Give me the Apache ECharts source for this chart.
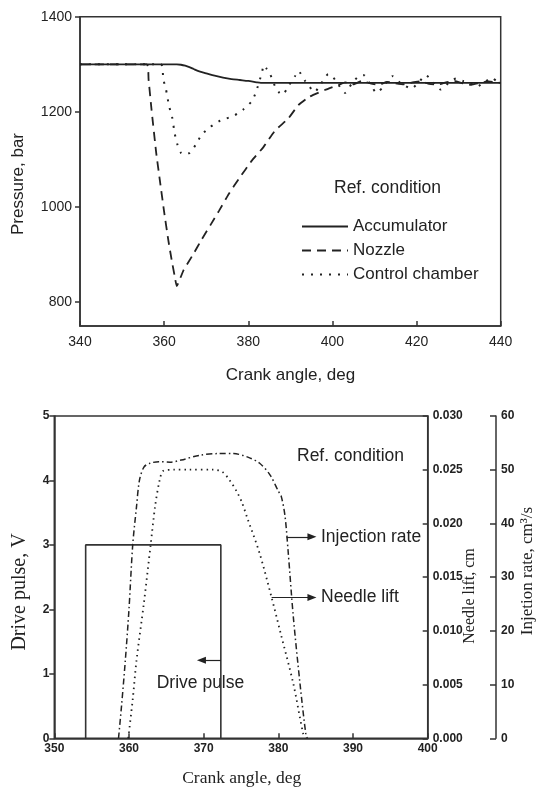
<!DOCTYPE html>
<html>
<head>
<meta charset="utf-8">
<script src="https://cdn.jsdelivr.net/npm/echarts@6/dist/echarts.min.js"></script>
<style>
  html, body { margin: 0; padding: 0; background: #fff; }
  #chart { width: 538px; height: 791px; }
</style>
</head>
<body>
<div id="chart"></div>
<script>
// ---- Upper panel: rail pressures vs crank angle ----
const accAngle = [340, 363, 364, 365, 366, 367, 368, 370, 372, 374, 376, 378, 380, 382, 383, 440];
const accPressure = [1300, 1300, 1299, 1297, 1294, 1290, 1286, 1281, 1276, 1272, 1269, 1267, 1265, 1262, 1261, 1261];

const nozAngle = [340, 355.9, 356.3, 357, 358.1, 359, 360, 361, 361.8, 362.5, 363, 364.6, 367, 369, 371, 373.1, 375.4, 377.8, 380.9, 383.6, 386.4, 389.5, 391.9, 394.6, 398.2, 401.8, 403, 405, 407, 409, 411, 413, 415, 417, 419, 421, 423, 425, 427, 429, 431, 433, 435, 437, 440];
const nozPressure = [1300, 1300, 1268, 1205, 1115, 1055, 990, 930, 888, 855, 834, 867, 902, 933, 962, 993, 1028, 1060, 1098, 1126, 1161, 1186, 1214, 1232, 1246, 1258, 1262, 1258, 1265, 1260, 1257, 1263, 1260, 1258, 1262, 1264, 1259, 1257, 1262, 1265, 1260, 1257, 1261, 1264, 1261];

const ccAngle = [340, 359.2, 359.8, 360.4, 361.2, 361.9, 362.5, 363.1, 364, 365, 366.1, 367.6, 368.9, 370.9, 373, 374.8, 376.8, 378.8, 380.8, 381.8, 383.2, 383.7, 384.4, 385.2, 386.3, 387.4, 388.2, 389.5, 391.1, 391.9, 393.5, 395.1, 395.8, 397.2, 399, 399.8, 401.2, 403, 404.5, 406.1, 407.5, 409, 410.5, 412, 414.3, 416, 418.8, 420.5, 422.2, 424, 425.7, 427.5, 429.4, 431, 432.5, 434.3, 436.3, 437.8, 439, 440];
const ccPressure = [1300, 1300, 1268, 1249, 1211, 1189, 1155, 1133, 1114, 1110, 1114, 1132, 1152, 1168, 1180, 1186, 1193, 1205, 1222, 1241, 1281, 1298, 1290, 1279, 1255, 1240, 1236, 1254, 1275, 1286, 1265, 1247, 1242, 1258, 1279, 1277, 1260, 1240, 1258, 1274, 1277, 1258, 1240, 1252, 1275, 1262, 1249, 1262, 1277, 1262, 1247, 1260, 1270, 1265, 1262, 1253, 1263, 1272, 1265, 1262];

const pressureTicks = [800, 1000, 1200, 1400];

// ---- Lower panel: drive pulse, needle lift, injection rate ----
const pulseAngle = [354.2, 354.2, 372.3, 372.3];
const pulseVolt = [0, 3, 3, 0];

const liftAngle = [359.9, 360.5, 361, 362, 362.9, 363.5, 364.1, 364.6, 366, 368, 371.3, 372.5, 373.5, 374.4, 375.1, 375.8, 377.5, 379.1, 380.3, 382, 383.3, 383.6];
const liftCm = [0, 0.0036, 0.0072, 0.0126, 0.018, 0.0216, 0.024, 0.0249, 0.025, 0.025, 0.025, 0.0248, 0.024, 0.023, 0.022, 0.0206, 0.0172, 0.0131, 0.0098, 0.0051, 0.0005, 0];

const rateAngle = [358.6, 359.0, 359.5, 360, 360.5, 361, 361.4, 362, 362.8, 364, 365.5, 367, 369.5, 372, 374, 376, 377.5, 378.9, 380, 380.4, 380.9, 381.3, 382, 382.9, 383.7, 383.9];
const rateCm3 = [0, 6, 14.3, 24, 36, 43, 48, 50.5, 51.2, 51.5, 51.4, 51.8, 52.7, 53, 53, 52.3, 51.2, 49, 46, 45, 41.3, 35, 22.7, 10.2, 0.6, 0];

const zip = (xs, ys) => xs.map((x, i) => [x, ys[i]]);

const INK = '#222';
const AXIS = '#333';
const SANS = '"Liberation Sans", Arial, sans-serif';
const SERIF = '"Liberation Serif", "Times New Roman", serif';

const chart = echarts.init(document.getElementById('chart'), null, { renderer: 'canvas' });

const lineAxis = { show: true, lineStyle: { color: AXIS, width: 1.5 } };
const arrowLine = (from, to) => ({
  silent: true, symbol: ['none', 'triangle'], symbolSize: [7, 9],
  lineStyle: { color: INK, width: 1.2, type: 'solid' }, label: { show: false },
  data: [[{ coord: from }, { coord: to }]]
});

const option = {
  animation: false,
  backgroundColor: '#fff',
  grid: [
    { left: 80, top: 16.7, width: 420.7, height: 309.3, show: true, borderColor: AXIS, borderWidth: 1.5, containLabel: false },
    { left: 54.3, top: 416, width: 373.4, height: 322.3, show: true, borderColor: AXIS, borderWidth: 1.5, containLabel: false }
  ],
  xAxis: [
    {
      type: 'value', gridIndex: 0, min: 340, max: 440, interval: 20,
      axisLine: lineAxis,
      axisTick: { show: true, inside: true, length: 5, lineStyle: { color: AXIS, width: 1.5 } },
      axisLabel: { margin: 9, color: INK, fontFamily: SANS, fontSize: 14, formatter: v => String(v) },
      splitLine: { show: false }
    },
    {
      type: 'value', gridIndex: 1, min: 350, max: 400, interval: 10,
      axisLine: lineAxis,
      axisTick: { show: true, inside: true, length: 5, lineStyle: { color: AXIS, width: 1.5 } },
      axisLabel: { margin: 4, color: INK, fontFamily: SANS, fontSize: 12, fontWeight: 'bold', formatter: v => String(v) },
      splitLine: { show: false }
    }
  ],
  yAxis: [
    {
      type: 'value', gridIndex: 0, min: 750, max: 1400,
      axisLine: lineAxis,
      axisTick: { show: true, inside: false, length: 5, customValues: pressureTicks, lineStyle: { color: AXIS, width: 1.5 } },
      axisLabel: { margin: 8, color: INK, fontFamily: SANS, fontSize: 14, customValues: pressureTicks, formatter: v => String(v) },
      splitLine: { show: false }
    },
    {
      type: 'value', gridIndex: 1, min: 0, max: 5, interval: 1,
      axisLine: lineAxis,
      axisTick: { show: true, inside: false, length: 5, lineStyle: { color: AXIS, width: 1.5 } },
      axisLabel: { margin: 5, color: INK, fontFamily: SANS, fontSize: 12, fontWeight: 'bold' },
      splitLine: { show: false }
    },
    {
      type: 'value', gridIndex: 1, position: 'right', min: 0, max: 0.03, interval: 0.005,
      axisLine: lineAxis,
      axisTick: { show: true, inside: true, length: 5, lineStyle: { color: AXIS, width: 1.5 } },
      axisLabel: { margin: 5, color: INK, fontFamily: SANS, fontSize: 12, fontWeight: 'bold', formatter: v => v.toFixed(3) },
      splitLine: { show: false }
    },
    {
      type: 'value', gridIndex: 1, position: 'right', offset: 68.3, min: 0, max: 60, interval: 10,
      axisLine: lineAxis,
      axisTick: { show: true, inside: true, length: 6, lineStyle: { color: AXIS, width: 1.5 } },
      axisLabel: { margin: 5, color: INK, fontFamily: SANS, fontSize: 12, fontWeight: 'bold' },
      splitLine: { show: false }
    }
  ],
  legend: {
    orient: 'vertical', left: 296, top: 213, itemWidth: 46, itemHeight: 10, itemGap: 7,
    textStyle: { fontFamily: SANS, fontSize: 17, color: INK },
    itemStyle: { opacity: 0, borderWidth: 0 },
    data: ['Accumulator', 'Nozzle', 'Control chamber']
  },
  series: [
    {
      name: 'Accumulator', type: 'line', xAxisIndex: 0, yAxisIndex: 0, symbol: 'none', smooth: 0.3,
      lineStyle: { color: INK, width: 1.8 }, itemStyle: { color: INK },
      data: zip(accAngle, accPressure)
    },
    {
      name: 'Nozzle', type: 'line', xAxisIndex: 0, yAxisIndex: 0, symbol: 'none', smooth: 0.15,
      lineStyle: { color: INK, width: 1.8, type: [9, 6] }, itemStyle: { color: INK },
      data: zip(nozAngle, nozPressure)
    },
    {
      name: 'Control chamber', type: 'line', xAxisIndex: 0, yAxisIndex: 0, symbol: 'none', smooth: 0.2,
      lineStyle: { color: INK, width: 2, type: [2, 7] }, itemStyle: { color: INK },
      data: zip(ccAngle, ccPressure)
    },
    {
      name: 'Drive pulse', type: 'line', xAxisIndex: 1, yAxisIndex: 1, symbol: 'none',
      lineStyle: { color: AXIS, width: 1.6 },
      data: zip(pulseAngle, pulseVolt),
      markLine: arrowLine([372.3, 1.21], [369.7, 1.21])
    },
    {
      name: 'Needle lift', type: 'line', xAxisIndex: 1, yAxisIndex: 2, symbol: 'none', smooth: 0.3,
      lineStyle: { color: INK, width: 1.8, type: [1.5, 4] },
      data: zip(liftAngle, liftCm),
      markLine: arrowLine([379.1, 0.0131], [384.5, 0.0131])
    },
    {
      name: 'Injection rate', type: 'line', xAxisIndex: 1, yAxisIndex: 3, symbol: 'none', smooth: 0.3,
      lineStyle: { color: INK, width: 1.5, type: [6, 3, 1.5, 3] },
      data: zip(rateAngle, rateCm3),
      markLine: arrowLine([381.1, 37.5], [384.5, 37.5])
    }
  ],
  graphic: [
    // axis titles
    { type: 'text', x: 18, y: 184, rotation: Math.PI / 2, style: { text: 'Pressure, bar', font: '17px ' + SANS, fill: INK, align: 'center', verticalAlign: 'middle' } },
    { type: 'text', x: 290.5, y: 375, style: { text: 'Crank angle, deg', font: '17px ' + SANS, fill: INK, align: 'center', verticalAlign: 'middle' } },
    { type: 'text', x: 20, y: 592, rotation: Math.PI / 2, style: { text: 'Drive pulse, V', font: '20px ' + SERIF, fill: INK, align: 'center', verticalAlign: 'middle' } },
    { type: 'text', x: 241.7, y: 778, style: { text: 'Crank angle, deg', font: '17.5px ' + SERIF, fill: INK, align: 'center', verticalAlign: 'middle' } },
    { type: 'text', x: 470, y: 596, rotation: Math.PI / 2, style: { text: 'Needle lift, cm', font: '16px ' + SERIF, fill: INK, align: 'center', verticalAlign: 'middle' } },
    { type: 'text', x: 528, y: 571, rotation: Math.PI / 2, style: { text: 'Injetion rate, cm³/s', font: '17px ' + SERIF, fill: INK, align: 'center', verticalAlign: 'middle' } },
    // annotations
    { type: 'text', x: 334, y: 188, style: { text: 'Ref. condition', font: '17.5px ' + SANS, fill: INK, align: 'left', verticalAlign: 'middle' } },
    { type: 'text', x: 297, y: 456, style: { text: 'Ref. condition', font: '17.5px ' + SANS, fill: INK, align: 'left', verticalAlign: 'middle' } },
    { type: 'text', x: 321, y: 537, style: { text: 'Injection rate', font: '17.5px ' + SANS, fill: INK, align: 'left', verticalAlign: 'middle' } },
    { type: 'text', x: 321, y: 597, style: { text: 'Needle lift', font: '17.5px ' + SANS, fill: INK, align: 'left', verticalAlign: 'middle' } },
    { type: 'text', x: 156.7, y: 683, style: { text: 'Drive pulse', font: '17.5px ' + SANS, fill: INK, align: 'left', verticalAlign: 'middle' } }
  ]
};

chart.setOption(option);
</script>
</body>
</html>
